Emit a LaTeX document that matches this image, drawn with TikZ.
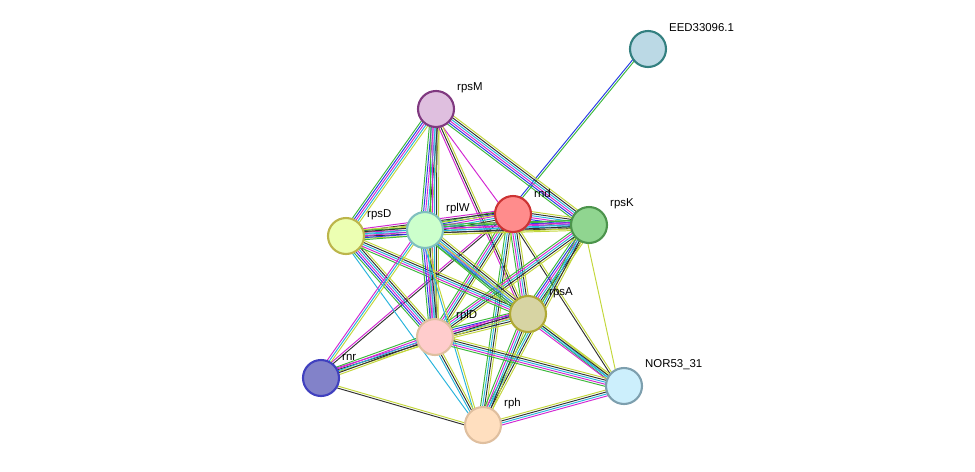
\documentclass[tikz,border=0pt]{standalone}
\usepackage{fontspec}
\setmainfont{Liberation Sans}
\usepackage{tikz}
\usetikzlibrary{calc}
\usetikzlibrary{backgrounds}
\usepackage{color}
\definecolor{ngreen}{RGB}{61, 184, 61}
\definecolor{nblue}{RGB}{40, 60, 230}
\definecolor{nmag}{RGB}{210, 40, 210}
\definecolor{ncyan}{RGB}{40, 180, 220}
\definecolor{nblack}{RGB}{50, 50, 50}
\definecolor{nyel}{RGB}{195, 215, 60}
\tikzset{
  prot/.style n args={2}{circle, minimum size=0.72cm, inner sep=0pt, line width=1.2pt, fill=#1, draw=#2},
  lbl/.style={anchor=west, font=\fontsize{6.5}{7}\selectfont},
  ln/.style={line width=0.55pt}
}
\newcommand\lnk[3]{%
  \foreach \c [count=\i] in {#3}{%
    \pgfmathsetmacro\off{(\i-3.5)*1.15}
    \draw[ln,\c] ($(#1)!\off pt!90:(#2)$) -- ($(#2)!\off pt!-90:(#1)$);}}
\begin{document}
\begin{tikzpicture}[x=0.02cm, y=-0.02cm]
        \useasboundingbox (0,0) rectangle (975,471);
        % proteins
        \node[prot={cyan!30!teal!30!white}{teal!60!gray}] (eed) at (648, 49) {};
        \node[prot={violet!25}{violet!55!gray}]          (rpsM) at (436,109) {};
        \node[prot={red!45}{red!60!gray}]                (rnd) at (513,214) {};
        \node[prot={green!45!gray!60!white}{green!40!black!70}] (rpsK) at (589,225) {};
        \node[prot={lime!30}{olive!60}]                  (rpsD) at (346,236) {};
        \node[prot={green!20}{teal!50}]                  (rplW) at (425,230) {};
        \node[prot={yellow!40!gray!60!white}{olive!70}]  (rpsA) at (528,314) {};
        \node[prot={pink!80}{brown!50}]                  (rplD) at (435,337) {};
        \node[prot={blue!40!gray!70!white}{blue!50!gray}] (rnr) at (321,378) {};
        \node[prot={cyan!20}{cyan!30!gray}]              (nor) at (624,386) {};
        \node[prot={orange!25}{brown!50}]                (rph) at (483,425) {};
        % labels
        \foreach \n/\t in {eed/EED33096.1, rpsM/rpsM, rnd/rnd, rpsK/rpsK, rpsD/rpsD, rplW/rplW,
                           rpsA/rpsA, rplD/rplD, rnr/rnr, nor/NOR53\_31, rph/rph}
            \node[lbl] at ($(\n)+(15,-21)$) {\t};
        % interactions
        \begin{scope}[on background layer]
            \lnk{eed}{rnd}{nblue,ngreen}
            \lnk{rpsM}{rpsD}{ngreen,nblue,nmag,ncyan,nyel}
            \lnk{rpsM}{rplW}{ngreen,nblue,nmag,ncyan,nblack,nyel}
            \lnk{rpsM}{rnd}{nmag}
            \lnk{rpsM}{rpsK}{ngreen,nblue,nmag,ncyan,nblack,nyel}
            \lnk{rpsM}{rplD}{ngreen,nmag,ncyan,nblack,nyel}
            \lnk{rpsM}{rpsA}{nmag,nblack,nyel}
            \lnk{rnd}{rpsK}{ngreen,nblue,nmag,ncyan,nblack,nyel}
            \lnk{rnd}{rplW}{ngreen,nblue,nmag,ncyan,nblack,nyel}
            \lnk{rnd}{rpsD}{nmag,nblack,nyel}
            \lnk{rnd}{rpsA}{ngreen,nmag,ncyan,nblack,nyel}
            \lnk{rnd}{rplD}{ngreen,nmag,ncyan,nblack,nyel}
            \lnk{rnd}{rnr}{nmag,nblack}
            \lnk{rnd}{rph}{ngreen,ncyan,nblack,nyel}
            \lnk{rnd}{nor}{nblack,nyel}
            \lnk{rpsK}{rplW}{ngreen,nblue,nmag,ncyan,nblack,nyel}
            \lnk{rpsK}{rpsD}{ngreen,nmag,ncyan,nblack,nyel}
            \lnk{rpsK}{rpsA}{ngreen,nblue,nmag,ncyan,nblack,nyel}
            \lnk{rpsK}{rplD}{ngreen,nmag,ncyan,nblack,nyel}
            \lnk{rpsK}{rph}{ngreen,ncyan,nblack,nyel}
            \lnk{rpsK}{nor}{nyel}
            \lnk{rpsD}{rplW}{ngreen,nblue,nmag,ncyan,nblack,nyel}
            \lnk{rpsD}{rplD}{ngreen,nblue,nmag,ncyan,nblack,nyel}
            \lnk{rpsD}{rpsA}{ngreen,nmag,ncyan,nblack,nyel}
            \lnk{rpsD}{rph}{ncyan}
            \lnk{rplW}{rplD}{ngreen,nblue,nmag,ncyan,nblack,nyel}
            \lnk{rplW}{rpsA}{ngreen,nblue,nmag,ncyan,nblack,nyel}
            \lnk{rplW}{rnr}{nmag,ncyan,nyel}
            \lnk{rplW}{rph}{ncyan,nyel}
            \lnk{rplW}{nor}{ngreen,ncyan,nyel}
            \lnk{rpsA}{rplD}{ngreen,nblue,nmag,ncyan,nblack,nyel}
            \lnk{rpsA}{rph}{ngreen,nmag,ncyan,nblack,nyel}
            \lnk{rpsA}{nor}{nmag,ncyan,nblack,nyel}
            \lnk{rpsA}{rnr}{nmag,nblack,nyel}
            \lnk{rplD}{rnr}{ngreen,nmag,ncyan,nblack,nyel}
            \lnk{rplD}{rph}{ncyan,nblack,nyel}
            \lnk{rplD}{nor}{ngreen,nmag,ncyan,nblack,nyel}
            \lnk{rnr}{rph}{nblack,nyel}
            \lnk{rph}{nor}{nmag,ncyan,nblack,nyel}
        \end{scope}
\end{tikzpicture}
\end{document}
